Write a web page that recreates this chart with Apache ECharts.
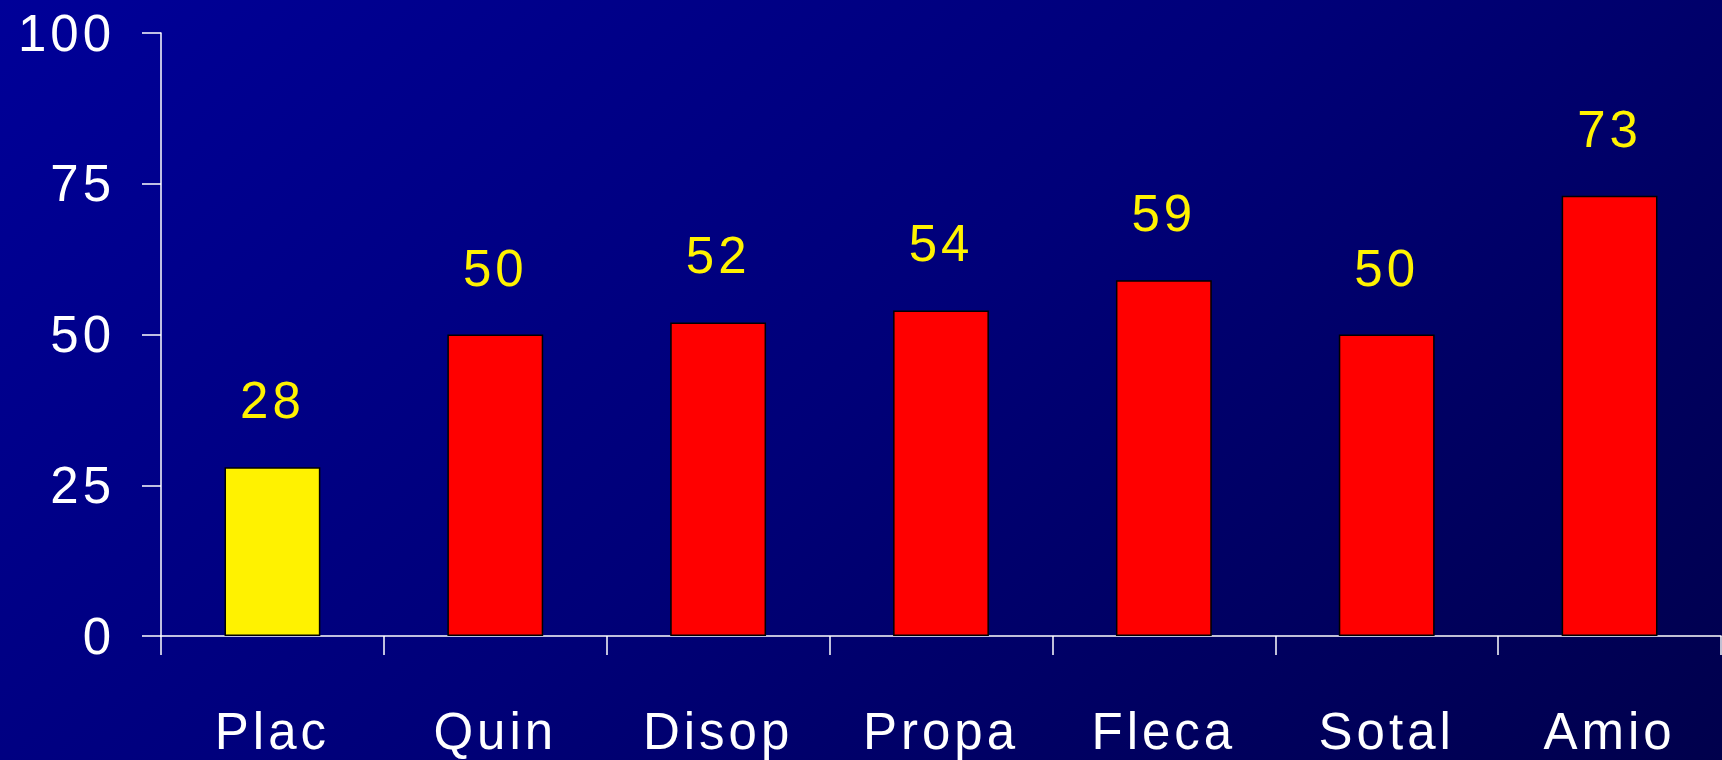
<!DOCTYPE html>
<html>
<head>
<meta charset="utf-8">
<script src="https://cdn.jsdelivr.net/npm/echarts@6/dist/echarts.min.js"></script>
<style>
html, body { margin: 0; padding: 0; width: 1722px; height: 760px; overflow: hidden;
  background: linear-gradient(140deg, #000098 0%, #000078 50%, #00004c 100%); }
#chart { width: 1722px; height: 760px; }
#chart text { letter-spacing: 4px; }
</style>
</head>
<body>
<div id="chart"></div>
<script>
const categories = ['Plac', 'Quin', 'Disop', 'Propa', 'Fleca', 'Sotal', 'Amio'];
const values = [28, 50, 52, 54, 59, 50, 73];
const yTicks = [0, 25, 50, 75, 100];
const placeboCategory = 'Plac';

const FONT = "'Liberation Sans', Arial, sans-serif";
const chart = echarts.init(document.getElementById('chart'), null, { renderer: 'svg' });

chart.setOption({
  backgroundColor: 'transparent',
  animation: false,
  grid: { left: 161, right: 1, top: 33, bottom: 124, containLabel: false },
  xAxis: {
    type: 'category',
    data: categories,
    boundaryGap: true,
    axisLine: { show: true, lineStyle: { color: '#ffffff', width: 1.5 } },
    axisTick: { show: true, length: 19, alignWithLabel: false, lineStyle: { color: '#ffffff', width: 1.5 } },
    axisLabel: { color: '#ffffff', fontSize: 51, fontFamily: FONT, margin: 70, interval: 0 },
    splitLine: { show: false }
  },
  yAxis: {
    type: 'value',
    min: yTicks[0],
    max: yTicks[yTicks.length - 1],
    interval: yTicks[1] - yTicks[0],
    axisLine: { show: true, lineStyle: { color: '#ffffff', width: 1.5 } },
    axisTick: { show: true, length: 19, lineStyle: { color: '#ffffff', width: 1.5 } },
    axisLabel: { color: '#ffffff', fontSize: 51, fontFamily: FONT, margin: 46 },
    splitLine: { show: false }
  },
  series: [{
    type: 'bar',
    barWidth: '43%',
    data: values.map((v, i) => ({
      value: v,
      itemStyle: { color: categories[i] === placeboCategory ? '#fff200' : '#ff0000' }
    })),
    itemStyle: { borderColor: '#000000', borderWidth: 1.5 },
    label: {
      show: true,
      position: 'top',
      distance: 41,
      color: '#fff200',
      fontSize: 51,
      fontFamily: FONT
    }
  }]
});
</script>
</body>
</html>
